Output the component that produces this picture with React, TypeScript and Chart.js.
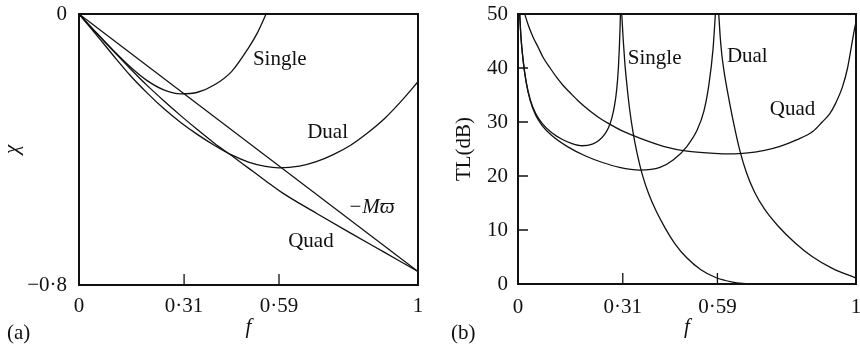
import React, { useEffect, useRef } from 'react';
import { Chart, registerables } from 'chart.js';

Chart.register(...registerables);

// ---------- shared axis ----------
const fTickValues = [0, 0.31, 0.59, 1];
const fTickLabels = ['0', '0·31', '0·59', '1'];
const fInnerTicks = [0.31, 0.59];

// ---------- panel (a): reactance chi ----------
const chiTickValues = [-0.8, 0];
const chiTickLabels = ['−0·8', '0'];

const chiMassF = [0, 1];
const chiMass = [0, -0.76];

const chiSingleF = [0, 0.05, 0.1, 0.15, 0.2, 0.25, 0.3, 0.35, 0.4, 0.45, 0.5, 0.525, 0.552];
const chiSingle = [0, -0.054, -0.106, -0.155, -0.196, -0.224, -0.236, -0.231, -0.209, -0.17, -0.1, -0.058, 0];

const chiDualF = [0, 0.05, 0.1, 0.15, 0.2, 0.25, 0.3, 0.35, 0.4, 0.45, 0.5, 0.55, 0.59, 0.65, 0.7, 0.75, 0.8, 0.85, 0.9, 0.95, 1];
const chiDual = [0, -0.06, -0.121, -0.18, -0.232, -0.279, -0.32, -0.356, -0.388, -0.416, -0.437, -0.45, -0.454, -0.449, -0.436, -0.415, -0.388, -0.352, -0.31, -0.258, -0.2];

const chiQuadF = [0, 0.05, 0.1, 0.15, 0.2, 0.25, 0.3, 0.35, 0.4, 0.45, 0.5, 0.55, 0.6, 0.7, 0.8, 0.9, 1];
const chiQuad = [0, -0.055, -0.108, -0.16, -0.21, -0.256, -0.3, -0.342, -0.382, -0.418, -0.455, -0.492, -0.528, -0.588, -0.646, -0.703, -0.76];

const chiNotes = [
  { text: 'Single', f: 0.513, v: -0.133, italic: false },
  { text: 'Dual', f: 0.673, v: -0.351, italic: false },
  { text: '−Mϖ', f: 0.794, v: -0.57, italic: true },
  { text: 'Quad', f: 0.617, v: -0.673, italic: false },
];

// ---------- panel (b): transmission loss ----------
const tlTickValues = [0, 10, 20, 30, 40, 50];
const tlTickLabels = ['0', '10', '20', '30', '40', '50'];
const tlInnerTicks = [10, 20, 30, 40];

const tlSingleAF = [0.005, 0.009, 0.015, 0.024, 0.036, 0.052, 0.072, 0.1, 0.13, 0.16, 0.19, 0.22, 0.24, 0.255, 0.268, 0.278, 0.286, 0.292, 0.297, 0.3, 0.302, 0.303];
const tlSingleA = [50, 45.5, 41.5, 37.5, 34.2, 31.6, 29.7, 28, 26.8, 26, 25.6, 25.9, 26.6, 27.6, 29, 30.8, 33.2, 36, 40, 44, 47.5, 50];

const tlSingleBF = [0.307, 0.311, 0.316, 0.322, 0.33, 0.34, 0.353, 0.368, 0.386, 0.408, 0.435, 0.465, 0.5, 0.54, 0.585, 0.635, 0.68];
const tlSingleB = [50, 45.5, 41, 37, 32.5, 28.2, 24, 20.2, 16.8, 13.6, 10.4, 7.4, 4.8, 2.7, 1.2, 0.35, 0];

const tlDualAF = [0.005, 0.009, 0.015, 0.024, 0.036, 0.052, 0.072, 0.1, 0.15, 0.2, 0.25, 0.3, 0.36, 0.42, 0.46, 0.5, 0.53, 0.55, 0.565, 0.577, 0.584];
const tlDualA = [50, 45.5, 41.5, 37.4, 34, 31.3, 29.3, 27.5, 25.3, 23.7, 22.5, 21.6, 21.1, 21.6, 23, 25.5, 28.5, 32, 37, 43.5, 50];

const tlDualBF = [0.594, 0.598, 0.603, 0.609, 0.617, 0.627, 0.64, 0.656, 0.676, 0.7, 0.73, 0.77, 0.82, 0.87, 0.93, 1];
const tlDualB = [50, 46, 42.5, 39.6, 36.6, 33.2, 29.2, 24.8, 20.6, 17, 13.8, 10.7, 7.6, 5.1, 2.9, 1.1];

const tlQuadF = [0.02, 0.03, 0.044, 0.06, 0.074, 0.095, 0.114, 0.133, 0.153, 0.18, 0.212, 0.24, 0.271, 0.31, 0.36, 0.43, 0.5, 0.58, 0.63, 0.68, 0.726, 0.775, 0.824, 0.873, 0.9, 0.922, 0.94, 0.96, 0.975, 0.987, 0.995, 1];
const tlQuad = [50, 48, 45.8, 43.8, 42, 40, 38.3, 36.8, 35.5, 33.8, 32.1, 30.8, 29.6, 28.3, 27, 25.5, 24.6, 24.2, 24.1, 24.3, 24.7, 25.5, 26.7, 28.3, 30, 31.5, 33.5, 36.5, 40, 44.2, 47, 48.5];

const tlNotes = [
  { text: 'Single', f: 0.325, v: 41.7, italic: false },
  { text: 'Dual', f: 0.618, v: 42.1, italic: false },
  { text: 'Quad', f: 0.745, v: 32.4, italic: false },
];

// ---------- styling ----------
const INK = '#111111';
const SERIF = "'Liberation Serif', 'Times New Roman', 'DejaVu Serif', serif";
const W = 430;
const H = 348;

type Series = { f: number[]; v: number[] };
type Note = { text: string; f: number; v: number; italic: boolean };

type PanelSpec = {
  series: Series[];
  yMin: number;
  yMax: number;
  yTicks: number[];
  yTickLabels: string[];
  yInner: number[];
  yTitle: string;
  yTitleItalic: boolean;
  yTitlePad: number;
  yAxisWidth: number;
  yTickPad: number;
  xAxisHeight: number;
  xTickPad: number;
  padRight: number;
  notes: Note[];
  panelLabel: string;
  panelX: number;
};

function decor(spec: PanelSpec) {
  return {
    id: 'decor',
    afterDatasetsDraw(chart: any) {
      const { ctx, chartArea: a, scales } = chart;
      const x = scales.x;
      const y = scales.y;
      ctx.save();
      ctx.strokeStyle = INK;
      ctx.lineWidth = 2;
      ctx.strokeRect(a.left, a.top, a.right - a.left, a.bottom - a.top);
      ctx.lineWidth = 1.3;
      ctx.beginPath();
      for (const v of fInnerTicks) {
        const px = x.getPixelForValue(v);
        ctx.moveTo(px, a.bottom);
        ctx.lineTo(px, a.bottom - 11);
      }
      for (const v of spec.yInner) {
        const py = y.getPixelForValue(v);
        ctx.moveTo(a.left, py);
        ctx.lineTo(a.left + 10, py);
      }
      ctx.stroke();
      ctx.fillStyle = INK;
      ctx.textAlign = 'left';
      ctx.textBaseline = 'middle';
      for (const n of spec.notes) {
        ctx.font = `${n.italic ? 'italic ' : ''}21px ${SERIF}`;
        ctx.fillText(n.text, x.getPixelForValue(n.f), y.getPixelForValue(n.v));
      }
      ctx.font = `21px ${SERIF}`;
      ctx.fillText(spec.panelLabel, spec.panelX, 333);
      ctx.restore();
    },
  };
}

function build(canvas: HTMLCanvasElement, spec: PanelSpec) {
  return new Chart(canvas, {
    type: 'scatter',
    data: {
      datasets: spec.series.map((s) => ({
        data: s.f.map((f, i) => ({ x: f, y: s.v[i] })),
        showLine: true,
        borderColor: INK,
        backgroundColor: INK,
        borderWidth: 1.3,
        pointRadius: 0,
        pointHoverRadius: 0,
        fill: false,
        cubicInterpolationMode: 'monotone',
      })),
    },
    options: {
      responsive: false,
      maintainAspectRatio: false,
      animation: false,
      events: [],
      devicePixelRatio: 1,
      layout: { padding: { left: 0, top: 14, right: spec.padRight, bottom: 0 } },
      plugins: { legend: { display: false }, tooltip: { enabled: false } },
      scales: {
        x: {
          type: 'linear',
          min: 0,
          max: 1,
          grid: { display: false, drawTicks: false },
          border: { display: false },
          afterBuildTicks: (s: any) => {
            s.ticks = fTickValues.map((value) => ({ value }));
          },
          afterFit: (s: any) => {
            s.height = spec.xAxisHeight;
            s.paddingLeft = 0;
            s.paddingRight = 0;
          },
          ticks: {
            autoSkip: false,
            maxRotation: 0,
            minRotation: 0,
            padding: spec.xTickPad,
            color: INK,
            font: { family: SERIF, size: 21 },
            callback: (_v: any, i: number) => fTickLabels[i],
          },
          title: {
            display: true,
            text: 'f',
            color: INK,
            font: { family: SERIF, size: 21, style: 'italic' },
            padding: { top: 0, bottom: 8 },
          },
        },
        y: {
          type: 'linear',
          min: spec.yMin,
          max: spec.yMax,
          grid: { display: false, drawTicks: false },
          border: { display: false },
          afterBuildTicks: (s: any) => {
            s.ticks = spec.yTicks.map((value) => ({ value }));
          },
          afterFit: (s: any) => {
            s.width = spec.yAxisWidth;
            s.paddingTop = 0;
            s.paddingBottom = 0;
          },
          ticks: {
            autoSkip: false,
            padding: spec.yTickPad,
            color: INK,
            font: { family: SERIF, size: 21 },
            callback: (_v: any, i: number) => spec.yTickLabels[i],
          },
          title: {
            display: true,
            text: spec.yTitle,
            color: INK,
            font: { family: SERIF, size: 21, style: spec.yTitleItalic ? 'italic' : 'normal' },
            padding: { top: spec.yTitlePad, bottom: 0 },
          },
        },
      },
    },
    plugins: [decor(spec)],
  } as any);
}

export default function App() {
  const refA = useRef<HTMLCanvasElement>(null);
  const refB = useRef<HTMLCanvasElement>(null);

  useEffect(() => {
    const specA: PanelSpec = {
      series: [
        { f: chiMassF, v: chiMass },
        { f: chiSingleF, v: chiSingle },
        { f: chiDualF, v: chiDual },
        { f: chiQuadF, v: chiQuad },
      ],
      yMin: -0.8,
      yMax: 0,
      yTicks: chiTickValues,
      yTickLabels: chiTickLabels,
      yInner: [],
      yTitle: 'χ',
      yTitleItalic: true,
      yTitlePad: 0,
      yAxisWidth: 79,
      yTickPad: 12,
      xAxisHeight: 63,
      xTickPad: 9,
      padRight: 12,
      notes: chiNotes,
      panelLabel: '(a)',
      panelX: 7,
    };
    const specB: PanelSpec = {
      series: [
        { f: tlSingleAF, v: tlSingleA },
        { f: tlSingleBF, v: tlSingleB },
        { f: tlDualAF, v: tlDualA },
        { f: tlDualBF, v: tlDualB },
        { f: tlQuadF, v: tlQuad },
      ],
      yMin: 0,
      yMax: 50,
      yTicks: tlTickValues,
      yTickLabels: tlTickLabels,
      yInner: tlInnerTicks,
      yTitle: 'TL(dB)',
      yTitleItalic: false,
      yTitlePad: 22,
      yAxisWidth: 88,
      yTickPad: 10,
      xAxisHeight: 64,
      xTickPad: 11,
      padRight: 4,
      notes: tlNotes,
      panelLabel: '(b)',
      panelX: 21,
    };
    const a = build(refA.current as HTMLCanvasElement, specA);
    const b = build(refB.current as HTMLCanvasElement, specB);
    return () => {
      a.destroy();
      b.destroy();
    };
  }, []);

  return (
    <div style={{ position: 'absolute', left: 0, top: 0, width: 860, height: H, background: '#fff', overflow: 'hidden' }}>
      <canvas ref={refA} width={W} height={H} style={{ position: 'absolute', left: 0, top: 0, width: W, height: H }} />
      <canvas ref={refB} width={W} height={H} style={{ position: 'absolute', left: 430, top: 0, width: W, height: H }} />
    </div>
  );
}
